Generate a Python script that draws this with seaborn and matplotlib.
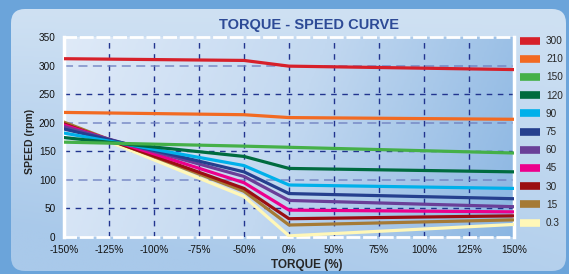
import numpy as np
import pandas as pd
import seaborn as sns
import matplotlib.pyplot as plt
from matplotlib.patches import FancyBboxPatch
from matplotlib.lines import Line2D
from matplotlib.colors import LinearSegmentedColormap

# 축 눈금 (등간격 범주)
torque_ticks = ['-150%', '-125%', '-100%', '-75%', '-50%', '0%', '50%', '75%', '100%', '125%', '150%']
# 각 곡선의 꺾이는 지점
torque_points = ['-150%', '-50%', '0%', '150%']

series_names = ['300', '210', '150', '120', '90', '75', '60', '45', '30', '15', '0.3']
speed_300 = [312, 309, 299, 293]
speed_210 = [218, 214, 209, 206]
speed_150 = [166, 159, 157, 147]
speed_120 = [174, 141, 120, 114]
speed_90 = [182, 125, 91, 85]
speed_75 = [189, 114, 76, 67]
speed_60 = [193, 106, 64, 53]
speed_45 = [196, 95, 47, 44]
speed_30 = [198, 85, 32, 37]
speed_15 = [201, 80, 21, 30]
speed_03 = [199, 71, 2, 22]
speeds = [speed_300, speed_210, speed_150, speed_120, speed_90, speed_75,
          speed_60, speed_45, speed_30, speed_15, speed_03]

colors = ['#d7202a', '#f26a22', '#45b048', '#006b3f', '#00b0ea', '#253f8e',
          '#6a3f98', '#ec008c', '#9b0f12', '#a57a35', '#fff7b8']
color_map = dict(zip(series_names, colors))

rows = []
for name, vals in zip(series_names, speeds):
    for t, v in zip(torque_points, vals):
        rows.append({'series': name, 'pos': torque_ticks.index(t), 'speed': v})
df = pd.DataFrame(rows)

sns.set_style('white')
plt.rcParams['font.family'] = ['Liberation Sans', 'DejaVu Sans']

fig = plt.figure(figsize=(5.69, 2.74), dpi=100)
fig.patch.set_facecolor('#6ba4da')

# 배경 패널 (둥근 사각형 + 그라데이션)
bg = fig.add_axes([0, 0, 1, 1], zorder=-10)
bg.set_xlim(0, 569)
bg.set_ylim(274, 0)
bg.axis('off')
panel = FancyBboxPatch((11, 9), 555, 262, boxstyle='round,pad=0,rounding_size=14',
                       facecolor='none', edgecolor='none', transform=bg.transData)
bg.add_patch(panel)
gx, gy = np.meshgrid(np.linspace(0, 1, 200), np.linspace(0, 1, 100))
panel_cmap = LinearSegmentedColormap.from_list('p', ['#cfe1f3', '#a9c9ea'])
im = bg.imshow(0.7 * gy + 0.5 * (1 - gx) * gy, cmap=panel_cmap, extent=(11, 566, 271, 9),
               aspect='auto', vmin=0, vmax=1)
im.set_clip_path(panel)

ax = fig.add_axes([64 / 569, 1 - 237 / 274, 450 / 569, 200 / 274])
ax.set_xlim(0, len(torque_ticks) - 1)
ax.set_ylim(0, 350)

plot_cmap = LinearSegmentedColormap.from_list('a', ['#dfeaf8', '#c2d8f0', '#8bb6e2'])
ax.imshow(0.85 * gx + 0.15 * gy, cmap=plot_cmap, extent=(0, 10, 0, 350),
          aspect='auto', zorder=0, vmin=0, vmax=1)

# 격자
for i in range(1, len(torque_ticks) - 1):
    ax.axvline(i, color='#22358f', lw=1.0, ls=(0, (4, 4)), zorder=1)
for y in [50, 150, 250]:
    ax.axhline(y, color='#22358f', lw=1.0, ls=(0, (4, 4)), zorder=1)
for y in [100, 200, 300]:
    ax.axhline(y, color='#6f80c0', lw=1.3, ls=(0, (5, 3)), alpha=0.75, zorder=1)

sns.lineplot(data=df, x='pos', y='speed', hue='series', hue_order=series_names[::-1],
             palette=color_map, lw=2.3, legend=False, ax=ax, zorder=3)

for side in ['left', 'right']:
    ax.spines[side].set_color('white')
    ax.spines[side].set_linewidth(2.5)
for side in ['top', 'bottom']:
    ax.spines[side].set_color('white')
    ax.spines[side].set_linewidth(2.0)
    ax.spines[side].set_linestyle((0, (4, 2)))

ax.set_xticks(range(len(torque_ticks)))
ax.set_xticklabels(torque_ticks)
ax.set_yticks(range(0, 351, 50))
ax.tick_params(axis='both', length=0, labelsize=7.2, colors='#111111')
ax.tick_params(axis='x', pad=6)
ax.tick_params(axis='y', pad=6)
ax.set_xlabel('')
ax.set_ylabel('')

fig.text(30 / 569, 1 - 141 / 274, 'SPEED (rpm)', rotation=90, ha='center', va='center',
         fontsize=7.6, fontweight='bold')
fig.text(307 / 569, 1 - 265 / 274, 'TORQUE (%)', ha='center', va='center',
         fontsize=8.5, fontweight='bold')
fig.text(309 / 569, 1 - 25 / 274, 'TORQUE - SPEED CURVE', ha='center', va='center',
         fontsize=10.5, fontweight='bold', color='#2d4a96')

handles = [Line2D([], [], color=c, lw=5.5, solid_capstyle='butt') for c in colors]
fig.legend(handles, series_names, loc='center left', bbox_to_anchor=(520 / 569, 1 - 132 / 274),
           frameon=False, fontsize=7.2, handlelength=2.0, handletextpad=0.6,
           labelspacing=0.82, borderpad=0, borderaxespad=0)

fig.savefig('out.png', dpi=100)
